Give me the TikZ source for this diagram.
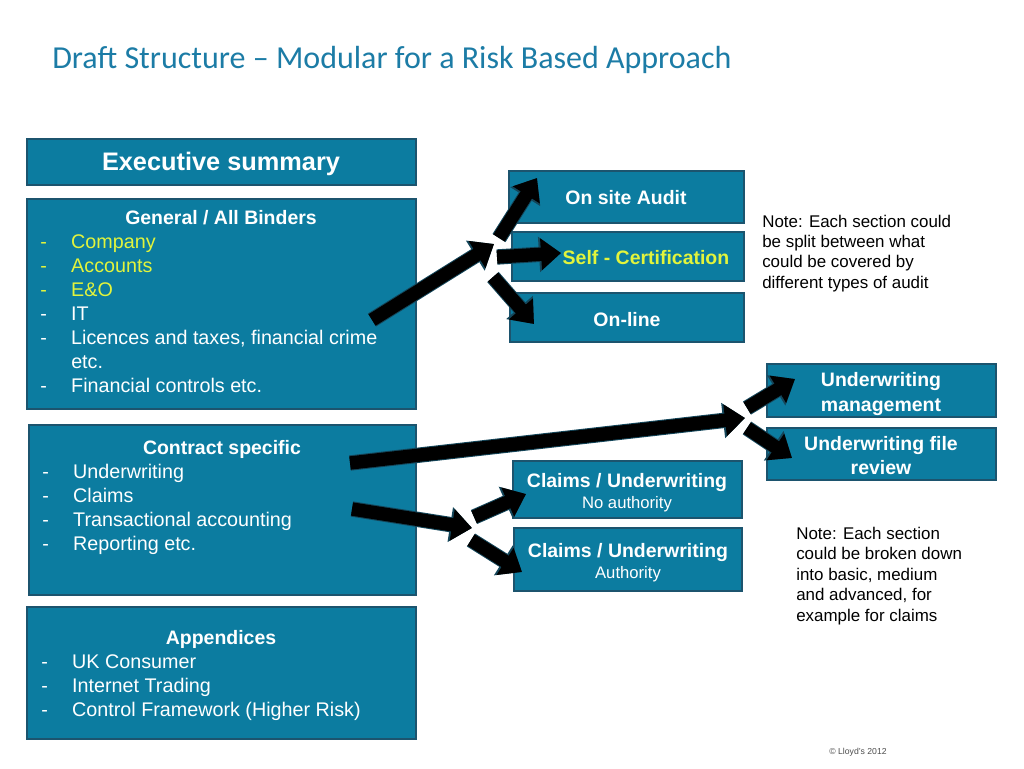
\documentclass[tikz,border=0pt]{standalone}
\usepackage{fontspec}
\setmainfont{Liberation Sans}
\newfontfamily\titlefont{Carlito}
\usetikzlibrary{arrows.meta,fit}
\definecolor{boxfill}{RGB}{12,124,160}
\definecolor{boxedge}{RGB}{28,84,110}
\definecolor{titleblue}{RGB}{28,124,166}
\definecolor{hiyellow}{RGB}{226,244,60}
\definecolor{arrowedge}{RGB}{20,70,90}
\newcommand{\dashline}[1]{\par\noindent\makebox[23.25pt][l]{-}#1}
\newcommand{\ydashline}[1]{\par\noindent{\color{hiyellow}\makebox[23.25pt][l]{-}#1}}
\begin{document}
\begin{tikzpicture}[x=0.75pt,y=-0.75pt,
  panel/.style={draw=boxedge,line width=1.1pt,fill=boxfill,inner sep=0pt},
  boxtitle/.style={text=white,font=\bfseries\fontsize{14.6}{17}\selectfont,anchor=base,inner sep=0pt},
  boxsub/.style={text=white,font=\fontsize{12.5}{15}\selectfont,anchor=base,inner sep=0pt},
  listtext/.style={text=white,font=\fontsize{14.8}{18}\selectfont,anchor=base west,inner sep=0pt},
  notetext/.style={text=black,font=\fontsize{12.7}{15.3}\selectfont,anchor=base west,inner sep=0pt},
  bigarrow/.style={line width=10pt,draw=black,-{Triangle[length=15pt,width=23pt]},
    preaction={draw=arrowedge,line width=11.5pt,-{Triangle[length=16.5pt,width=25.5pt]}}}]
\useasboundingbox (0,0) rectangle (1024,768);
% title
\node[anchor=base west,inner sep=0pt,text=titleblue,font=\titlefont\fontsize{24}{28}\selectfont] (title) at (52,68) {Draft Structure – Modular for a Risk Based Approach};
% left boxes
\node[panel,fit={(27,139)(416,185)}] (exec) {};
\node[panel,fit={(27,199)(416,409)}] (gen) {};
\node[panel,fit={(29,425)(416,595)}] (contract) {};
\node[panel,fit={(27,607)(416,739)}] (app) {};
% right boxes
\node[panel,fit={(509,171)(744,223)}] (onsite) {};
\node[panel,fit={(512,232)(744,281)}] (selfcert) {};
\node[panel,fit={(510,293)(744,342)}] (online) {};
\node[panel,fit={(767,364)(996,417)}] (uwmgmt) {};
\node[panel,fit={(767,428)(996,480)}] (uwfile) {};
\node[panel,fit={(513,461)(742,518)}] (noauth) {};
\node[panel,fit={(514,528)(742,591)}] (auth) {};
% texts in left boxes
\node[boxtitle,font=\bfseries\fontsize{19}{22}\selectfont] (execT) at (221,170) {Executive summary};
\node[boxtitle] (genT) at (221,224) {General / All Binders};
\node[listtext] (genL) at (40,248) {\parbox[t]{300pt}{\fontsize{14.8}{18}\selectfont
  \ydashline{Company}\ydashline{Accounts}\ydashline{E\&O}\dashline{IT}\dashline{Licences and taxes, financial crime}\par\noindent\hspace*{23.25pt}etc.\dashline{Financial controls etc.}}};
\node[boxtitle] (conT) at (222,454) {Contract specific};
\node[listtext] (conL) at (42,478) {\parbox[t]{300pt}{\fontsize{14.8}{18}\selectfont
  \dashline{Underwriting}\dashline{Claims}\dashline{Transactional accounting}\dashline{Reporting etc.}}};
\node[boxtitle] (appT) at (221,644) {Appendices};
\node[listtext] (appL) at (41,668) {\parbox[t]{300pt}{\fontsize{14.8}{18.2}\selectfont
  \dashline{UK Consumer}\dashline{Internet Trading}\dashline{Control Framework (Higher Risk)}}};
% texts in right boxes
\node[boxtitle] (onsiteT) at (626,204) {On site Audit};
\node[boxtitle,text=hiyellow] (selfT) at (646,264) {Self - Certification};
\node[boxtitle] (onlineT) at (627,326) {On-line};
\node[boxtitle] (uwmT1) at (881,386) {Underwriting};
\node[boxtitle] (uwmT2) at (881,411) {management};
\node[boxtitle] (uwfT1) at (881,450) {Underwriting file};
\node[boxtitle] (uwfT2) at (881,474) {review};
\node[boxtitle] (naT) at (627,487) {Claims / Underwriting};
\node[boxsub] (naS) at (627,508) {No authority};
\node[boxtitle] (auT) at (628,557) {Claims / Underwriting};
\node[boxsub] (auS) at (628,578) {Authority};
% notes
\node[notetext] (note1) at (762,227) {\parbox[t]{200pt}{\fontsize{12.7}{15.3}\selectfont Note: Each section could\\be split between what\\could be covered by\\different types of audit}};
\node[notetext] (note2) at (796,539) {\parbox[t]{200pt}{\fontsize{12.7}{15.4}\selectfont Note: Each section\\could be broken down\\into basic, medium\\and advanced, for\\example for claims}};
\node[anchor=base,inner sep=0pt,text=black!70,font=\fontsize{6.5}{8}\selectfont] (copy) at (858,754) {© Lloyd's 2012};
% arrow coordinates
\coordinate (a1s) at (372,320);
\coordinate (j1) at (494,244);
\coordinate (b1s) at (499,238);
\coordinate (b1e) at (537,178);
\coordinate (b2s) at (497,257);
\coordinate (b2e) at (561,253);
\coordinate (b3s) at (493,277);
\coordinate (b3e) at (534,324);
\coordinate (a2s) at (350,463);
\coordinate (j2) at (745,418);
\coordinate (c1s) at (747,408);
\coordinate (c1e) at (795,379);
\coordinate (c2s) at (747,428);
\coordinate (c2e) at (792,458);
\coordinate (a3s) at (352,509);
\coordinate (j3) at (472,528);
\coordinate (d1s) at (474,517);
\coordinate (d1e) at (526,494);
\coordinate (d2s) at (471,540);
\coordinate (d2e) at (522,572);
% arrows
\draw[bigarrow] (a1s) -- (j1);
\draw[bigarrow] (b1s) -- (b1e);
\draw[bigarrow] (b2s) -- (b2e);
\draw[bigarrow] (b3s) -- (b3e);
\draw[bigarrow] (a2s) -- (j2);
\draw[bigarrow] (c1s) -- (c1e);
\draw[bigarrow] (c2s) -- (c2e);
\draw[bigarrow] (a3s) -- (j3);
\draw[bigarrow] (d1s) -- (d1e);
\draw[bigarrow] (d2s) -- (d2e);
\end{tikzpicture}
\end{document}
